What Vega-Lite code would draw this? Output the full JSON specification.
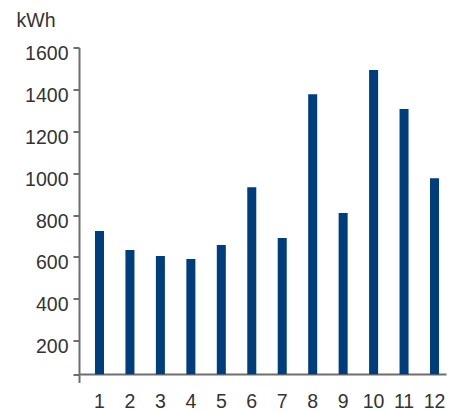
{
  "$schema": "https://vega.github.io/schema/vega-lite/v6.json",
  "autosize": {"type": "none"},
  "padding": {"left": 79, "top": 47.5, "right": 11, "bottom": 28.5},
  "width": 367,
  "height": 335,
  "background": "white",
  "config": {
    "view": {"stroke": null},
    "font": "Liberation Sans",
    "axis": {"grid": false, "domainColor": "#6e6e6e", "domainWidth": 2, "tickColor": "#6e6e6e", "tickWidth": 2, "labelColor": "#333333", "labelFont": "Liberation Sans", "labelFontSize": 19.5, "titleFont": "Liberation Sans", "titleColor": "#333333"}
  },
  "data": {
    "values": [
      {"month": 1, "kwh": 723},
      {"month": 2, "kwh": 633},
      {"month": 3, "kwh": 604},
      {"month": 4, "kwh": 590},
      {"month": 5, "kwh": 657},
      {"month": 6, "kwh": 933},
      {"month": 7, "kwh": 690},
      {"month": 8, "kwh": 1377},
      {"month": 9, "kwh": 809},
      {"month": 10, "kwh": 1492},
      {"month": 11, "kwh": 1306},
      {"month": 12, "kwh": 976}
    ]
  },
  "mark": {"type": "bar", "color": "#003d7c"},
  "encoding": {
    "x": {
      "field": "month",
      "type": "ordinal",
      "scale": {"paddingInner": 0.704, "paddingOuter": 0.377, "align": 0.696},
      "axis": {"title": null, "labelAngle": 0, "ticks": false, "labelPadding": 18.5, "offset": -8.4, "labelBaseline": "top"}
    },
    "y": {
      "field": "kwh",
      "type": "quantitative",
      "scale": {"domain": [0, 1600], "nice": false},
      "axis": {
        "values": [40, 200, 400, 600, 800, 1000, 1200, 1400, 1600],
        "labelExpr": "datum.value == 40 ? '' : datum.label",
        "format": "d",
        "tickSize": 6,
        "labelPadding": 5,
        "labelBaseline": "top",
        "labelOffset": -3,
        "title": "kWh",
        "titleAngle": 0,
        "titleAlign": "left",
        "titleBaseline": "alphabetic",
        "titleX": -63,
        "titleY": -21,
        "titleFontSize": 19.5,
        "titleFontWeight": "normal"
      }
    },
    "y2": {"datum": 40}
  }
}
